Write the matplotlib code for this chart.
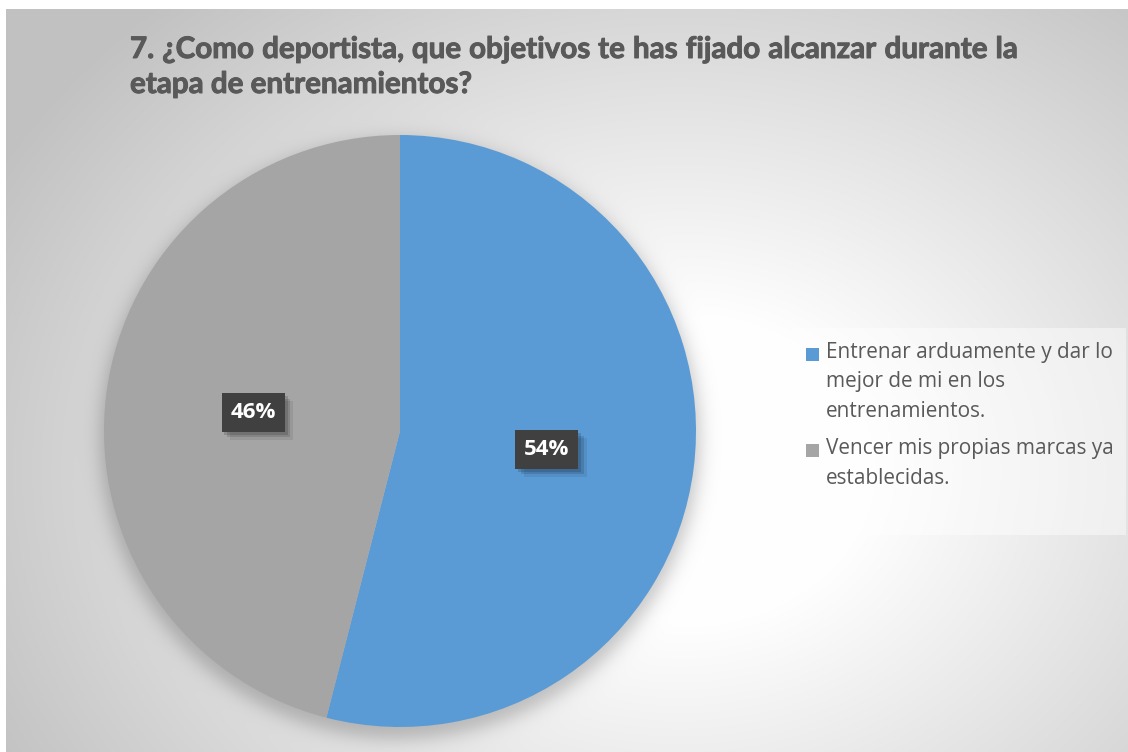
import numpy as np
import matplotlib
matplotlib.use("Agg")
import matplotlib.pyplot as plt
from matplotlib import patheffects as pe
from matplotlib.patches import Rectangle

# ---- data ----
categories = [
    "Entrenar arduamente y dar lo mejor de mi en los entrenamientos.",
    "Vencer mis propias marcas ya establecidas.",
]
legend_lines = [
    ["Entrenar arduamente y dar lo", "mejor de mi en los", "entrenamientos."],
    ["Vencer mis propias marcas ya", "establecidas."],
]
shares = [54, 46]
colors = ["#5B9BD5", "#A5A5A5"]
title_lines = [
    "7. ¿Como deportista, que objetivos te has fijado alcanzar durante la",
    "etapa de entrenamientos?",
]

W, H = 1128, 752
FONT = "Open Sans"
TITLE_FONT = "Lato"
TEXT_COLOR = "#595959"

fig = plt.figure(figsize=(W / 100, H / 100), dpi=100, facecolor="white")
renderer = fig.canvas.get_renderer()


def fx(px):
    return px / W


def fy(py):
    return 1 - py / H


def fit_size(text, family, weight, target_px):
    t = fig.text(0, 0, text, fontsize=10, family=family, fontweight=weight)
    w = t.get_window_extent(renderer).width
    t.remove()
    return 10 * target_px / w


# ---- background: radial gradient with soft shadow under the pie ----
pcx, pcy, R = 400, 431, 296
bg = fig.add_axes([0, 0, 1, 1])
bg.axis("off")
yy, xx = np.mgrid[0:H, 0:W] + 0.5
d = np.hypot((xx - 680) / 620, (yy - 470) / 500)
shade = 1 - 0.24 * np.clip((d - 0.3) / 0.95, 0, 1)
dist = np.hypot(xx - pcx, yy - (pcy + 8))
soft = 0.5 * (1 - np.tanh((dist - (R + 4)) / 11))
shade = shade * (1 - 0.22 * soft)
img = np.dstack([shade] * 3)
img[:9, :, :] = 1
img[:, :6, :] = 1
bg.imshow(img, extent=(0, W, H, 0), interpolation="bilinear", aspect="auto")
bg.set_xlim(0, W)
bg.set_ylim(H, 0)

# ---- pie ----
ax = fig.add_axes([fx(pcx - R), fy(pcy + R), 2 * R / W, 2 * R / H])
wedges, texts, autotexts = ax.pie(
    shares,
    colors=colors,
    startangle=90,
    counterclock=False,
    radius=1,
    autopct=lambda p: f"{p:.0f}%",
    pctdistance=0.5,
    wedgeprops=dict(linewidth=0),
    textprops=dict(color="white", fontsize=16, fontweight="bold", family=FONT),
)
ax.set_xlim(-1, 1)
ax.set_ylim(-1, 1)
ax.axis("off")

for t in autotexts:
    t.set_bbox(dict(boxstyle="square,pad=0.4", facecolor="#404040",
                    edgecolor="none", linewidth=0))
    t.get_bbox_patch().set_path_effects([
        pe.SimplePatchShadow(offset=(6, -6), shadow_rgbFace="black", alpha=0.08),
        pe.SimplePatchShadow(offset=(4, -4), shadow_rgbFace="black", alpha=0.12),
        pe.SimplePatchShadow(offset=(2, -2), shadow_rgbFace="black", alpha=0.15),
        pe.Normal(),
    ])

# ---- title (justified first line) ----
title_kw = dict(family=TITLE_FONT, fontweight="bold", color=TEXT_COLOR,
                va="baseline", ha="left",
                path_effects=[pe.withStroke(linewidth=0.7, foreground=TEXT_COLOR)])
tsize = fit_size(title_lines[1], TITLE_FONT, "bold", 343)
x0, x1 = 130, 1018
words = title_lines[0].split(" ")
widths = []
for wd in words:
    t = fig.text(0, 0, wd, fontsize=tsize, family=TITLE_FONT, fontweight="bold")
    widths.append(t.get_window_extent(renderer).width)
    t.remove()
gap = (x1 - x0 - sum(widths)) / (len(words) - 1)
x = x0
for wd, w in zip(words, widths):
    fig.text(fx(x), fy(58), wd, fontsize=tsize, **title_kw)
    x += w + gap
fig.text(fx(x0), fy(93), title_lines[1], fontsize=tsize, **title_kw)

# ---- legend ----
fig.patches.append(Rectangle((fx(793), fy(535)), fx(1126) - fx(793), fy(328) - fy(535),
                             transform=fig.transFigure, facecolor="white",
                             alpha=0.45, edgecolor="none"))
lsize = fit_size(legend_lines[0][0], FONT, "normal", 287)
line_step = 29.5
first_baselines = [358, 454]
for lines, color, b0 in zip(legend_lines, colors, first_baselines):
    fig.patches.append(Rectangle((fx(806), fy(b0 + 3)), fx(819) - fx(806), fy(b0 - 10) - fy(b0 + 3),
                                 transform=fig.transFigure, facecolor=color,
                                 edgecolor="none"))
    for i, line in enumerate(lines):
        fig.text(fx(826), fy(b0 + i * line_step), line, fontsize=lsize, family=FONT,
                 color=TEXT_COLOR, va="baseline", ha="left")

fig.savefig("out.png", dpi=100, facecolor=fig.get_facecolor())
